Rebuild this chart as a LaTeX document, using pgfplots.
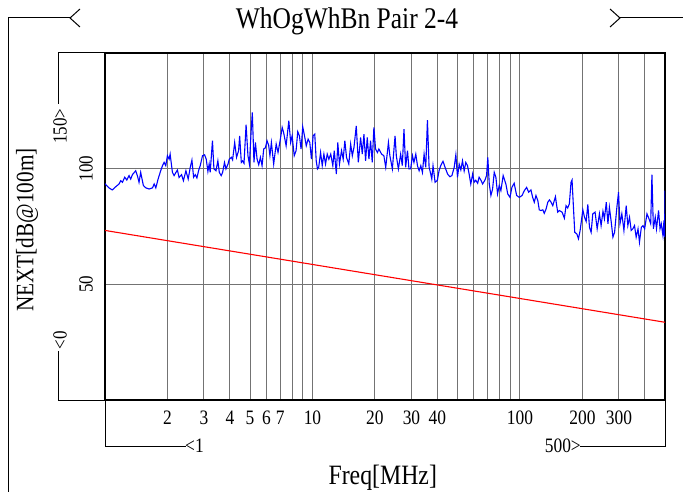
\documentclass[border=0pt]{standalone}
\usepackage{pgfplots}
\pgfplotsset{compat=1.18}
\usepackage{pgfplotstable}
\usepackage{fontspec}
\setmainfont{Liberation Serif}
\newfontfamily\simfont[FakeStretch=0.85]{Liberation Serif}

% lf = log10(frequency in MHz), v = NEXT in dB
\pgfplotstableread{
lf v
0.000 93.5
0.008 92.7
0.019 91.7
0.035 90.8
0.052 92.2
0.068 93.4
0.076 94.8
0.084 94.1
0.095 96.3
0.105 95.1
0.116 97.0
0.124 95.5
0.132 97.4
0.148 99.1
0.156 97.0
0.164 94.1
0.172 98.4
0.185 92.7
0.197 91.7
0.213 91.2
0.229 91.7
0.237 93.4
0.245 91.7
0.256 95.5
0.266 98.4
0.277 101.3
0.285 102.7
0.293 101.3
0.301 105.6
0.309 104.1
0.314 106.3
0.325 98.4
0.333 97.0
0.342 98.4
0.349 99.4
0.357 96.2
0.369 97.4
0.378 94.8
0.390 99.1
0.401 95.5
0.411 100.6
0.419 103.7
0.427 96.3
0.435 97.4
0.443 96.0
0.451 99.1
0.459 101.3
0.470 105.6
0.480 106.0
0.488 104.1
0.496 98.8
0.502 102.0
0.507 98.4
0.518 112.1
0.525 99.9
0.535 99.1
0.544 103.4
0.551 98.4
0.560 97.0
0.567 98.4
0.576 102.7
0.583 99.9
0.593 102.0
0.599 104.1
0.609 104.9
0.615 103.8
0.625 111.3
0.634 104.9
0.644 107.8
0.649 114.2
0.657 102.7
0.663 103.4
0.670 102.3
0.680 119.0
0.689 105.6
0.696 102.0
0.704 115.6
0.710 124.3
0.718 102.7
0.725 111.3
0.733 104.1
0.741 101.7
0.749 104.9
0.757 101.3
0.765 108.5
0.773 109.0
0.781 112.1
0.789 110.0
0.795 105.6
0.802 111.3
0.813 102.0
0.825 110.6
0.834 107.0
0.844 112.1
0.854 117.8
0.861 115.6
0.873 109.9
0.886 120.7
0.895 111.3
0.902 114.2
0.912 105.6
0.921 107.8
0.929 116.0
0.937 114.2
0.945 108.5
0.953 118.1
0.963 113.5
0.970 109.9
0.979 112.8
0.987 111.3
0.995 104.1
1.003 114.2
1.011 114.9
1.018 103.4
1.024 99.9
1.030 100.6
1.039 107.0
1.047 101.3
1.055 106.3
1.063 102.0
1.071 106.3
1.079 104.1
1.088 106.3
1.098 101.3
1.105 107.8
1.115 97.7
1.122 111.3
1.130 102.0
1.140 107.8
1.148 104.1
1.156 112.1
1.164 104.9
1.175 102.0
1.184 110.6
1.192 105.6
1.200 109.2
1.211 118.5
1.221 102.7
1.232 113.5
1.240 106.3
1.248 114.9
1.256 103.4
1.264 113.5
1.272 104.1
1.280 112.1
1.288 102.7
1.296 117.8
1.304 108.5
1.313 107.0
1.320 108.5
1.333 106.3
1.344 105.6
1.353 100.6
1.366 111.3
1.373 105.6
1.385 99.9
1.398 114.2
1.404 105.6
1.414 99.9
1.425 106.3
1.433 101.3
1.441 117.1
1.449 100.6
1.458 107.8
1.465 99.9
1.473 99.9
1.482 105.6
1.489 102.7
1.498 106.3
1.506 101.3
1.514 99.1
1.522 101.3
1.530 98.4
1.538 106.3
1.546 100.6
1.554 121.0
1.562 100.6
1.570 97.7
1.575 95.5
1.581 101.3
1.591 94.1
1.602 95.0
1.610 99.1
1.618 101.3
1.629 103.2
1.639 100.6
1.651 97.7
1.662 96.5
1.672 97.0
1.683 100.6
1.691 106.0
1.699 96.3
1.707 102.0
1.715 99.5
1.723 103.4
1.731 99.0
1.739 102.7
1.747 101.3
1.755 97.7
1.763 93.4
1.772 97.7
1.779 94.1
1.787 95.0
1.796 93.7
1.803 96.3
1.812 95.0
1.820 93.4
1.831 95.0
1.839 97.0
1.845 104.9
1.852 93.4
1.860 88.4
1.868 91.2
1.876 98.4
1.884 96.3
1.892 89.1
1.900 92.7
1.908 90.5
1.919 97.0
1.932 93.4
1.941 89.1
1.952 87.6
1.961 91.9
1.972 93.7
1.984 88.4
1.997 87.6
2.010 88.4
2.021 90.5
2.032 91.9
2.042 89.8
2.053 90.8
2.061 87.6
2.069 85.5
2.077 88.4
2.086 86.2
2.093 82.2
2.101 81.9
2.110 82.2
2.117 80.7
2.126 82.6
2.134 85.5
2.142 86.5
2.150 85.5
2.158 84.0
2.171 87.9
2.177 84.0
2.182 81.2
2.190 81.9
2.203 81.2
2.214 78.6
2.222 84.0
2.230 83.0
2.238 84.8
2.246 94.1
2.251 95.1
2.259 81.2
2.264 72.5
2.274 71.8
2.282 69.7
2.290 73.3
2.303 82.2
2.311 79.0
2.319 77.2
2.327 84.5
2.335 74.7
2.343 72.5
2.351 80.5
2.362 81.2
2.372 74.0
2.383 80.5
2.391 75.4
2.400 81.6
2.407 78.3
2.416 85.5
2.424 76.2
2.431 83.3
2.440 76.8
2.448 70.4
2.456 72.5
2.467 83.3
2.475 89.8
2.482 76.2
2.491 80.5
2.501 73.3
2.512 84.0
2.520 75.4
2.528 79.0
2.536 73.3
2.544 74.0
2.552 75.4
2.560 70.4
2.569 74.0
2.576 68.2
2.585 74.7
2.593 75.4
2.601 74.0
2.612 80.5
2.622 78.3
2.630 76.2
2.636 97.4
2.643 74.0
2.652 79.0
2.658 74.0
2.668 81.9
2.675 74.0
2.681 76.2
2.689 71.1
2.694 77.6
2.697 70.4
2.699 90.5
}\meas

\begin{document}
\begin{tikzpicture}
\path[use as bounding box] (0pt,0pt) rectangle (683pt,-492pt);
\begin{axis}[
  at={(105pt,-53pt)}, anchor=north west,
  width=560pt, height=347pt, scale only axis,
  xmode=log, xmin=1, xmax=500, ymin=0, ymax=150,
  xtick={2,3,4,5,6,7,10,20,30,40,100,200,300},
  xticklabels={2,3,4,5,6,7,10,20,30,40,100,200,300},
  minor xtick={8,9,50,60,70,80,90,400},
  ytick={50,100}, yticklabels={50,100},
  major tick length=0pt, minor tick length=0pt,
  xmajorgrids, xminorgrids, ymajorgrids,
  major grid style={black!55, line width=1pt},
  minor grid style={black!55, line width=1pt},
  axis line style={line width=2.6pt, black},
  xticklabel style={font=\fontsize{20.5}{20.5}\simfont, anchor=north, inner sep=0pt},
  xticklabel shift=11pt,
  yticklabel style={font=\fontsize{20}{20}\simfont, rotate=90, anchor=south, inner sep=0pt},
  yticklabel shift=12pt,
  xlabel={Freq[MHz]},
  xlabel style={at={(axis description cs:0.496,-0.225)}, anchor=center, font=\fontsize{28}{28}\simfont, inner sep=0pt},
  ylabel={NEXT[dB@100m]},
  ylabel style={at={(axis description cs:-0.139,0.49)}, anchor=center, font=\fontsize{25}{25}\simfont, inner sep=0pt},
]
\addplot[red, line width=1.1pt] coordinates {(1,73.3) (500,33.6)};
\addplot[blue, line width=1.1pt] table[x expr={10^(\thisrow{lf})}, y=v] {\meas};
\end{axis}
% title
\node[font=\fontsize{30}{30}\simfont, inner sep=0pt, anchor=base] at (347pt,-29pt) {WhOgWhBn Pair 2-4};
% title range markers
\draw[line width=1pt] (8pt,-492pt) -- (8pt,-18pt) -- (70pt,-18pt);
\draw[line width=1pt] (80pt,-9pt) -- (70pt,-18pt) -- (80pt,-27pt);
\draw[line width=1pt] (610pt,-9pt) -- (620pt,-18pt) -- (610pt,-27pt);
\draw[line width=1pt] (620pt,-18pt) -- (683pt,-18pt);
% y range markers
\draw[line width=1pt] (105pt,-53pt) -- (58pt,-53pt) -- (58pt,-104pt);
\draw[line width=1pt] (105pt,-400pt) -- (58pt,-400pt) -- (58pt,-351pt);
\node[rotate=90, font=\fontsize{20}{20}\simfont, inner sep=0pt] at (60pt,-126pt) {150>};
\node[rotate=90, font=\fontsize{20}{20}\simfont, inner sep=0pt] at (60pt,-340pt) {<0};
% x range markers
\draw[line width=1pt] (105pt,-400pt) -- (105pt,-446pt) -- (186pt,-446pt);
\draw[line width=1pt] (665pt,-400pt) -- (665pt,-446pt) -- (580pt,-446pt);
\node[anchor=west, font=\fontsize{20.5}{20.5}\simfont, inner sep=0pt] at (185pt,-446pt) {<1};
\node[anchor=east, font=\fontsize{20.5}{20.5}\simfont, inner sep=0pt] at (581pt,-446pt) {500>};
\end{tikzpicture}
\end{document}
